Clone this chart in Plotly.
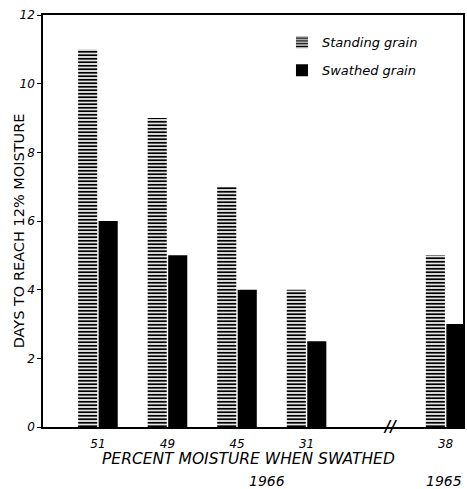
import plotly.graph_objects as go

categories = ["51", "49", "45", "31", "38"]
positions = [0, 1, 2, 3, 5]
standing = [11, 9, 7, 4, 5]
swathed = [6, 5, 4, 2.5, 3]
y_ticks = [0, 2, 4, 6, 8, 10, 12]

FONT = "DejaVu Sans"
it = dict(family=FONT, style="italic", color="black")
up = dict(family=FONT, color="black")

fig = go.Figure()
fig.add_trace(go.Bar(
    x=positions, y=standing, name="Standing grain", legendgroup="a",
    marker=dict(color="white", line=dict(width=0),
                pattern=dict(shape="-", fgcolor="black", bgcolor="white",
                             size=3.5, solidity=0.55, fillmode="replace")),
))
fig.add_trace(go.Bar(
    x=positions, y=swathed, name="Swathed grain", legendgroup="b",
    marker=dict(color="black", line=dict(width=0)),
))

fig.update_layout(
    width=467, height=489,
    margin=dict(l=43, r=4, t=15, b=62),
    paper_bgcolor="white", plot_bgcolor="white",
    barmode="group", bargap=0.41, bargroupgap=0.07,
    font=dict(family=FONT, color="black"),
    legend=dict(x=0.569, y=0.970, xanchor="left", yanchor="top",
                font=dict(size=13, **it), bgcolor="rgba(0,0,0,0)",
                itemwidth=30, tracegroupgap=8),
    showlegend=True,
)
fig.update_xaxes(
    range=[-0.79, 5.25], tickmode="array", tickvals=positions, ticktext=categories,
    showline=True, linecolor="black", linewidth=1.5, mirror=True,
    ticks="", showgrid=False, zeroline=False, tickfont=dict(size=12, **it),
    automargin=False, ticklabelstandoff=5,
)
fig.update_yaxes(
    range=[0, 12], tickmode="array", tickvals=y_ticks, ticktext=[str(v) for v in y_ticks],
    showline=True, linecolor="black", linewidth=1.5, mirror=True,
    ticks="outside", ticklen=4, tickcolor="black", showgrid=False, zeroline=False,
    tickfont=dict(size=12, **it), automargin=False,
)

fig.add_annotation(x=-0.057, y=0.475, xref="paper", yref="paper",
                   xanchor="center", yanchor="middle", textangle=-90,
                   text="DAYS TO REACH 12% MOISTURE", showarrow=False,
                   font=dict(size=14.5, **up))
fig.add_annotation(x=0.49, y=-0.078, xref="paper", yref="paper", yanchor="middle",
                   text="PERCENT MOISTURE WHEN SWATHED", showarrow=False,
                   font=dict(size=15.5, **it))
fig.add_annotation(x=2.43, y=-0.132, xref="x", yref="paper", yanchor="middle",
                   text="1966", showarrow=False, font=dict(size=14, **it))
fig.add_annotation(x=4.98, y=-0.132, xref="x", yref="paper", yanchor="middle",
                   text="1965", showarrow=False, font=dict(size=14, **it))
fig.add_annotation(x=4.2, y=0, xref="x", yref="y", yanchor="middle",
                   text="<b>//</b>", showarrow=False, font=dict(size=15, **it))

fig.write_html("out.html", config={"displayModeBar": False},
               post_script="document.body.style.margin='0';")
